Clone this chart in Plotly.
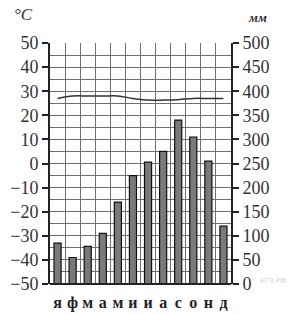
import plotly.graph_objects as go

months = ["я", "ф", "м", "а", "м", "и", "и", "а", "с", "о", "н", "д"]
temperature_c = [27, 28, 28, 28, 28, 27, 26.3, 26.3, 26.5, 27, 27, 27]
precip_mm = [85, 55, 78, 105, 170, 225, 253, 275, 340, 305, 255, 120]
temp_ticks = [50, 40, 30, 20, 10, 0, -10, -20, -30, -40, -50]
mm_ticks = [0, 50, 100, 150, 200, 250, 300, 350, 400, 450, 500]

x = list(range(1, 13))
font_serif = "Liberation Serif"

fig = go.Figure()
fig.add_trace(go.Bar(
    x=x, y=precip_mm, yaxis="y2", width=0.47,
    marker=dict(color="#7a7a7a", line=dict(color="#111111", width=1.2)),
))
fig.add_trace(go.Scatter(
    x=x, y=temperature_c, yaxis="y", mode="lines",
    line=dict(color="#333333", width=1.5, shape="spline"),
))

fig.update_layout(
    width=296, height=314,
    margin=dict(l=50, r=65, t=43, b=30, autoexpand=False),
    paper_bgcolor="white", plot_bgcolor="white",
    showlegend=False,
    xaxis=dict(
        range=[0.5, 12.5], tickmode="array", tickvals=x, ticktext=months,
        tickfont=dict(family=font_serif, size=16, color="#222222", weight="bold"),
        ticklabelstandoff=7, automargin=False,
        showgrid=False, ticks="", showline=False, zeroline=False,
        minor=dict(tickvals=[i + 0.5 for i in range(0, 13)], showgrid=True,
                   gridcolor="#6e6e6e", gridwidth=1),
    ),
    yaxis=dict(
        range=[-50, 50], tickmode="array", tickvals=temp_ticks, automargin=False,
        tickfont=dict(family=font_serif, size=18, color="#333333"),
        ticks="outside", ticklen=6, tickwidth=1.5, tickcolor="#222222",
        showline=True, linecolor="#222222", linewidth=2,
        showgrid=True, gridcolor="#6e6e6e", gridwidth=1, zeroline=False,
        minor=dict(dtick=5, showgrid=True, gridcolor="#6e6e6e", gridwidth=1),
    ),
    yaxis2=dict(
        range=[0, 500], overlaying="y", side="right", tickmode="array",
        tickvals=mm_ticks, automargin=False,
        tickfont=dict(family=font_serif, size=18, color="#333333"),
        ticks="outside", ticklen=6, tickwidth=1.5, tickcolor="#222222",
        showline=True, linecolor="#222222", linewidth=2,
        showgrid=False, zeroline=False,
    ),
    shapes=[dict(type="line", xref="paper", yref="paper", x0=0, x1=1, y0=0, y1=0,
                 line=dict(color="#222222", width=2))],
    annotations=[
        dict(text="°C", xref="paper", yref="paper", x=-0.144, y=1.120, showarrow=False,
             xanchor="center", yanchor="middle",
             font=dict(family=font_serif, size=17, color="#333333", style="italic")),
        dict(text="мм", xref="paper", yref="paper", x=1.144, y=1.104, showarrow=False,
             xanchor="center", yanchor="middle",
             font=dict(family=font_serif, size=13, color="#333333", style="italic", weight="bold")),
        dict(text="ЕГЭ.РФ", xref="paper", yref="paper", x=1.232, y=0.012, showarrow=False,
             xanchor="center", yanchor="middle",
             font=dict(family="DejaVu Sans", size=7, color="#d0d0d0")),
    ],
)

fig.write_html(
    "out.html",
    config={"displayModeBar": False},
    post_script="document.body.style.margin='0';document.body.style.overflow='hidden';",
)
